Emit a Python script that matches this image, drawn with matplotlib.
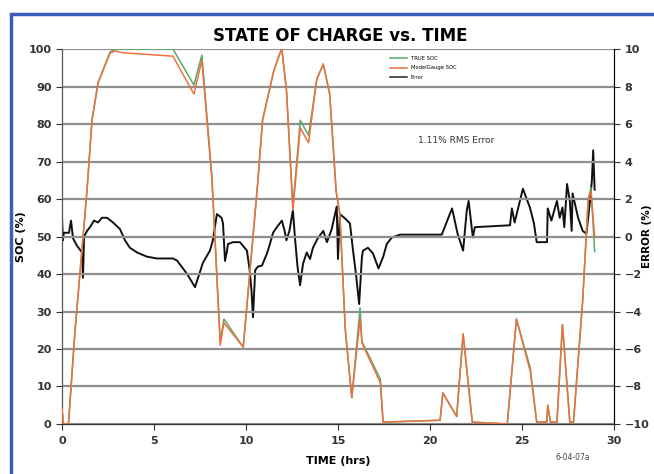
import matplotlib
matplotlib.use("Agg")
import matplotlib.pyplot as plt
from matplotlib.patches import Rectangle

# time (hrs) and SOC (%)
soc_time = [0.0, 0.08, 0.35, 0.71, 1.36, 1.63, 1.96, 2.61, 2.88, 3.3, 4.25, 6.03,
            7.17, 7.6, 8.15, 8.6, 8.8, 9.85, 10.65, 10.9, 11.5, 11.85, 11.95,
            12.2, 12.55, 12.95, 13.4, 13.85, 14.2, 14.55, 14.9, 15.1, 15.4, 15.75,
            16.2, 16.3, 17.3, 17.45, 20.55, 20.7, 21.45, 21.8, 22.3, 24.2, 24.7,
            25.45, 25.8, 26.35, 26.4, 26.55, 26.9, 27.2, 27.6, 27.8, 28.3, 28.6,
            28.75, 28.95]
true_soc = [4, 0, 0, 25, 62.4, 81, 91, 99.2, 100, 100, 100, 100,
            90.4, 98.4, 66, 22, 28, 20.5, 65, 81, 94, 99, 100,
            89, 58, 81, 77, 92, 96, 88, 62, 56, 25, 7,
            31, 22, 12, 0.5, 1, 8.3, 2, 24, 0.5, 0, 28,
            15, 0.5, 0.5, 5, 0.5, 0.5, 26.5, 0.5, 0.5, 33, 60,
            63, 46]
model_soc = [4, 0, 0, 25, 62.4, 81, 91, 98.9, 99.5, 99, 98.7, 98.1,
             88, 97, 65, 21, 27, 20.5, 65, 81, 94, 99, 100,
             89, 57, 79, 75, 92, 96, 88, 62, 56, 25, 7,
             28, 21.6, 11, 0.5, 1, 8.3, 2, 24, 0.5, 0, 28,
             14, 0.5, 0.5, 5, 0.5, 0.5, 26.5, 0.5, 0.5, 33, 60,
             62, 50]

# error (%) trace
err_time = [0.0, 0.05, 0.1, 0.38, 0.49, 0.6, 0.82, 1.09, 1.14, 1.2, 1.36, 1.52,
            1.74, 1.96, 2.17, 2.45, 2.77, 3.15, 3.42, 3.69, 4.08, 4.6, 5.15,
            6.03, 6.25, 6.8, 7.23, 7.66, 8.04, 8.2, 8.42, 8.67, 8.75, 8.86,
            8.97, 9.02, 9.3, 9.67, 10.05, 10.2, 10.3, 10.38, 10.5, 10.65, 10.87,
            11.14, 11.3, 11.47, 11.68, 11.95, 12.1, 12.2, 12.36, 12.55, 12.66,
            12.8, 12.94, 13.1, 13.3, 13.48, 13.64, 13.9, 14.2, 14.4, 14.66,
            14.93, 15.0, 15.1, 15.4, 15.65, 15.8, 16.0, 16.15, 16.3, 16.36,
            16.63, 16.9, 17.2, 17.45, 17.65, 17.93, 18.37, 20.64, 20.8, 21.2,
            21.5, 21.8, 22.0, 22.1, 22.33, 22.44, 24.35, 24.45, 24.6, 25.05,
            25.43, 25.65, 25.8, 26.36, 26.4, 26.6, 26.9, 27.05, 27.2, 27.3,
            27.45, 27.6, 27.7, 27.75, 28.05, 28.3, 28.5, 28.7, 28.8, 28.87, 28.95]
error = [1.0, -0.2, 0.2, 0.2, 0.85, -0.1, -0.5, -0.85, -2.2, 0.0, 0.3, 0.5,
         0.85, 0.75, 1.0, 1.0, 0.75, 0.4, -0.2, -0.6, -0.85, -1.07, -1.17,
         -1.17, -1.28, -2.0, -2.7, -1.4, -0.75, -0.2, 1.2, 1.0, 0.7, -1.3,
         -0.75, -0.4, -0.3, -0.3, -0.75, -1.8, -2.9, -4.3, -1.8, -1.6, -1.55,
         -0.9, -0.4, 0.2, 0.5, 0.85, 0.3, -0.2, 0.3, 1.4, -0.05,
         -1.6, -2.6, -1.45, -0.85, -1.2, -0.6, -0.1, 0.3, -0.3, 0.4,
         1.6, -1.2, 1.2, 0.95, 0.7, -0.6, -2.2, -3.6, -1.1, -0.75,
         -0.6, -0.9, -1.7, -1.1, -0.4, -0.05, 0.1, 0.1, 0.5, 1.5,
         0.15, -0.75, 1.4, 1.9, -0.05, 0.5, 0.6, 1.5, 0.75, 2.55,
         1.55, 0.7, -0.3, -0.3, 1.5, 0.85, 1.9, 1.0, 1.55, 0.5,
         2.8, 1.9, 0.3, 2.3, 1.0, 0.3, 0.15, 1.9, 3.0, 4.6, 2.5]

x_ticks = [0, 5, 10, 15, 20, 25, 30]

fig = plt.figure(figsize=(6.54, 4.74), dpi=100)
ax = fig.add_axes([0.0948, 0.1055, 0.844, 0.791])
ax2 = ax.twinx()

# SOC curves
ax.plot(soc_time, true_soc, color="#5aa86a", lw=1.1, label="TRUE SOC", zorder=3)
ax.plot(soc_time, model_soc, color="#ee7040", lw=1.1, label="ModelGauge SOC", zorder=4)
ax.plot([], [], color="#222222", lw=1.1, label="Error")

ax2.plot(err_time, error, color="#111111", lw=1.4, zorder=5)

ax.set_xlim(0, 30)
ax.set_ylim(0, 100)
ax2.set_ylim(-10, 10)
ax.set_xticks(x_ticks)
ax.set_yticks(range(0, 101, 10))
ax2.set_yticks(range(-10, 11, 2))
ax.grid(axis="y", color="#8f8f8f", lw=1.6)
ax.set_axisbelow(True)
ax.set_zorder(ax2.get_zorder() + 1)
ax.patch.set_visible(False)

for a in (ax, ax2):
    a.tick_params(labelsize=8, length=4, width=0.8, colors="#333333")
    for lab in a.get_xticklabels() + a.get_yticklabels():
        lab.set_fontweight("bold")
    a.spines["top"].set_visible(False)
ax.spines["left"].set_color("#555555")
ax.spines["bottom"].set_color("#333333")
ax2.spines["right"].set_color("#333333")
ax.tick_params(axis="x", pad=5)

ax.set_xlabel("TIME (hrs)", fontsize=8, fontweight="bold", labelpad=7)
ax.set_ylabel("SOC (%)", fontsize=8, fontweight="bold", labelpad=2)
ax2.set_ylabel("ERROR (%)", fontsize=7.5, fontweight="bold")
ax2.yaxis.set_label_coords(1.05, 0.5)

fig.text(0.52, 0.925, "STATE OF CHARGE vs. TIME", ha="center", va="center",
         fontsize=12, fontweight="bold",
         family=["Liberation Sans Narrow", "DejaVu Sans"])
ax.text(0.645, 0.75, "1.11% RMS Error", transform=ax.transAxes, fontsize=6.5,
        color="#333333")
fig.text(0.85, 0.03, "6-04-07a", fontsize=5.5, color="#444444")

ax.legend(loc="upper left", bbox_to_anchor=(0.585, 0.995), frameon=False,
          fontsize=3.8, handlelength=3.2, labelspacing=0.9)

# blue frame
fig.add_artist(Rectangle((11 / 654, -0.1), 1.0, (474 - 14) / 474 + 0.1,
                         transform=fig.transFigure, fill=False,
                         edgecolor="#3d5db5", lw=2.5))

fig.savefig("out.png", dpi=100)
